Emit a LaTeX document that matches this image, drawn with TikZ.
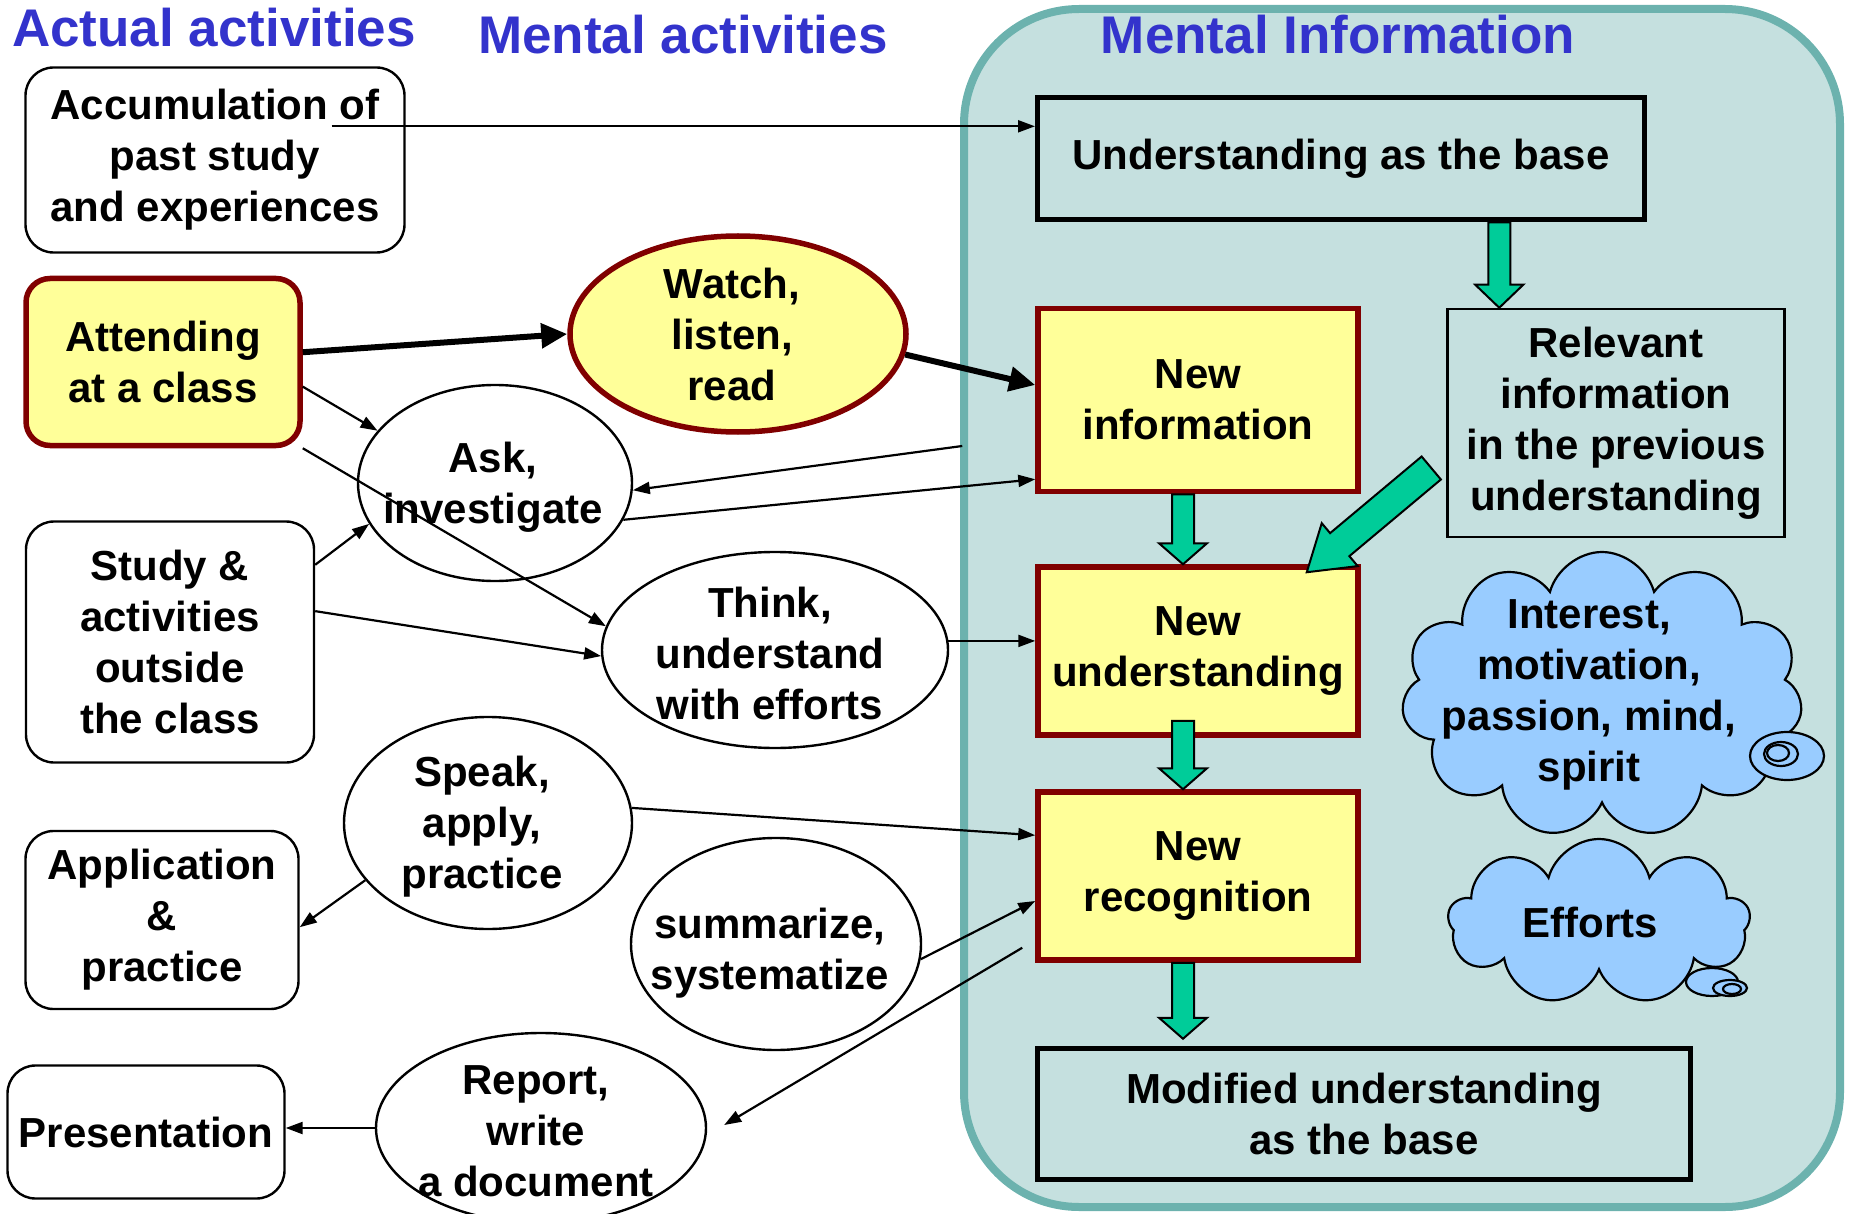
\documentclass[tikz,border=0pt]{standalone}
\usepackage{fontspec}
\setmainfont{Liberation Sans}
\usepackage{xcolor}
\usetikzlibrary{shapes}
\usetikzlibrary{arrows.meta}
\usetikzlibrary{calc}

\definecolor{headblue}{HTML}{3333CC}
\definecolor{paleyellow}{HTML}{FFFF99}
\definecolor{darkred}{HTML}{800000}
\definecolor{panelfill}{HTML}{C5E0DF}
\definecolor{paneledge}{HTML}{6CB2AE}
\definecolor{fatgreen}{HTML}{00CC99}
\definecolor{cloudblue}{HTML}{99CCFF}

\tikzset{
    head/.style={text=headblue, font=\fontsize{53}{60}\selectfont\bfseries},
    txt/.style={align=center, inner sep=0pt},
    actual/.style={draw, fill=white, line width=2.4pt, rounded corners=28pt, align=center, inner sep=0pt},
    mental/.style={ellipse, draw, fill=white, line width=2.4pt, inner sep=0pt},
    hot/.style={fill=paleyellow, draw=darkred, line width=5.5pt},
    infobox/.style={draw, line width=5pt, align=center, inner sep=0pt},
    conn/.style={line width=2.2pt, -{Triangle[length=17pt,width=12pt]}},
    bigconn/.style={line width=6pt, -{Triangle[length=26pt,width=24pt]}},
    fat/.style={fill=fatgreen, draw=black, line width=2pt, line join=miter},
    puff/.style={cloud, cloud ignores aspect, draw, fill=cloudblue, line width=2.2pt, inner sep=0pt},
    bubble/.style={draw, fill=cloudblue, line width=2.2pt}
}

% start, tip, shaft half width, head half width, head length
\newcommand{\fatarrow}[5]{%
        \coordinate (fa-h) at ($(#2)!#5!(#1)$);
        \draw[fat] ($(#1)!#3!90:(#2)$) -- ($(fa-h)!#3!90:(#2)$) -- ($(fa-h)!#4!90:(#2)$) -- (#2)
            -- ($(fa-h)!#4!-90:(#2)$) -- ($(fa-h)!#3!-90:(#2)$) -- ($(#1)!#3!-90:(#2)$) -- cycle;}

\begin{document}
\begin{tikzpicture}[x=1pt, y=-1pt, every node/.style={font=\fontsize{42}{51}\selectfont\bfseries}]
        \useasboundingbox (0,0) rectangle (1852,1214);
    %Panel
        \draw[fill=panelfill, draw=paneledge, line width=8pt, rounded corners=115pt] (964,9) rectangle (1840,1207);
        \node[head] (actual-h) at (214,28) {Actual activities};
        \node[head] (mental-h) at (683,35) {Mental activities};
        \node[head] (info-h) at (1338,35) {Mental Information};
    %Actual activities
        \node[actual, minimum width=379pt, minimum height=185pt] (acc) at (215,160) {Accumulation of\\past study\\and experiences};
        \node[actual, hot, rounded corners=24pt, minimum width=274pt, minimum height=167pt] (attend) at (163,362) {Attending\\at a class};
        \node[actual, minimum width=288pt, minimum height=241pt] (study) at (170,642) {Study \&\\activities\\outside\\the class};
        \node[actual, minimum width=273pt, minimum height=178pt] (app) at (162,920) {Application\\\&\\practice};
        \node[actual, minimum width=277pt, minimum height=133pt] (pres) at (146,1132) {Presentation};
    %Mental activities
        \node[mental, hot, minimum width=336pt, minimum height=196pt] (watch) at (738,334) {};
        \node[txt] (watch-t) at ($(watch)+(-6,0)$) {Watch,\\listen,\\read};
        \node[mental, minimum width=274pt, minimum height=196pt] (ask) at (495,483) {};
        \node[txt] (ask-t) at ($(ask)+(-2,4)$) {Ask,\\investigate};
        \node[mental, minimum width=346pt, minimum height=196pt] (think) at (775,650) {};
        \node[txt] (think-t) at ($(think)+(-5,3)$) {Think,\\understand\\with efforts};
        \node[mental, minimum width=288pt, minimum height=212pt] (speak) at (488,823) {};
        \node[txt] (speak-t) at ($(speak)+(-6,4)$) {Speak,\\apply,\\practice};
        \node[mental, minimum width=290pt, minimum height=212pt] (summ) at (776,944) {};
        \node[txt] (summ-t) at ($(summ)+(-6,9)$) {summarize,\\systematize};
        \node[mental, minimum width=330pt, minimum height=190pt] (report) at (541,1128) {};
        \node[txt] (report-t) at ($(report)+(-5,3)$) {Report,\\write\\a document};
    %Mental information
        \node[infobox, minimum width=607pt, minimum height=122pt] (base) at (1341,159) {Understanding as the base};
        \node[infobox, hot, minimum width=320pt, minimum height=183pt] (newinfo) at (1198,400) {New\\information};
        \node[infobox, line width=2.5pt, minimum width=337pt, minimum height=228pt] (rel) at (1616,423) {Relevant\\information\\in the previous\\understanding};
        \node[infobox, hot, minimum width=320pt, minimum height=168pt] (newund) at (1198,651) {New\\understanding};
        \node[infobox, hot, minimum width=320pt, minimum height=168pt] (newrec) at (1198,876) {New\\recognition};
        \node[infobox, minimum width=653pt, minimum height=131pt] (mod) at (1364,1114) {Modified understanding\\as the base};
    %Clouds
        \node[puff, cloud puffs=11, minimum width=401pt, minimum height=286pt] (spirit) at (1602,695) {};
        \node[txt] (spirit-t) at (1589,695) {Interest,\\motivation,\\passion, mind,\\spirit};
        \draw[bubble] (1787,756) ellipse [x radius=37pt, y radius=24pt];
        \draw[bubble] (1781,754) ellipse [x radius=17pt, y radius=12pt];
        \draw[bubble] (1778,753) ellipse [x radius=11pt, y radius=8pt];
        \node[puff, cloud puffs=9, minimum width=302pt, minimum height=166pt] (effort) at (1599,922) {};
        \node[txt] (effort-t) at (1590,922) {Efforts};
        \draw[bubble] (1712,982) ellipse [x radius=26pt, y radius=14pt];
        \draw[bubble] (1730,988) ellipse [x radius=17pt, y radius=8pt];
        \draw[bubble] (1732,989) ellipse [x radius=9pt, y radius=5pt];
    %Green arrows
        \coordinate (g1-tip) at ($(rel.north west)+(53,0)$);
        \coordinate (g1-start) at (g1-tip |- base.south);
        \fatarrow{g1-start}{g1-tip}{11pt}{24pt}{23pt}
        \coordinate (g2-start) at ($(newinfo.south)+(-15,0)$);
        \coordinate (g2-tip) at (g2-start |- newund.north);
        \fatarrow{g2-start}{g2-tip}{11pt}{24pt}{21pt}
        \coordinate (g3-start) at ($(newund.south)+(-15,-17)$);
        \coordinate (g3-tip) at (g3-start |- newrec.north);
        \fatarrow{g3-start}{g3-tip}{11pt}{24pt}{21pt}
        \coordinate (g4-start) at ($(newrec.south)+(-15,0)$);
        \coordinate (g4-tip) at ($(g4-start)+(0,76)$);
        \fatarrow{g4-start}{g4-tip}{11pt}{24pt}{21pt}
        \coordinate (g5-start) at ($(rel.west)+(-15,45)$);
        \coordinate (g5-tip) at ($(newund.north east)+(-54,8)$);
        \fatarrow{g5-start}{g5-tip}{15pt}{28pt}{43pt}
    %Connectors
        \coordinate (acc-out) at ($(acc.north east)+(-74,60)$);
        \draw[conn] (acc-out) -- (acc-out -| base.west);
        \draw[bigconn] (attend.4) -- (watch.west);
        \draw[bigconn] (watch.-7) -- ($(newinfo.west)+(0,-15)$);
        \draw[conn] (attend.-10) -- (ask.156);
        \draw[conn] (attend.south east) -- (think.172);
        \draw[conn] (study.28) -- (ask.198);
        \draw[conn] (study.12) -- (think.182);
        \coordinate (info-out) at ($(newinfo.west)+(-73,46)$);
        \draw[conn] (info-out) -- (ask.-3);
        \draw[conn] (ask.-16) -- ($(newinfo.south west)+(0,-15)$);
        \draw[conn] (think.3) -- (think.3 -| newund.west);
        \draw[conn] (speak.6) -- ($(newrec.north west)+(0,46)$);
        \draw[conn] (speak.205) -- (app.-3);
        \draw[conn] (summ.-6) -- ($(newrec.west)+(0,25)$);
        \coordinate (rec-out) at ($(newrec.south west)+(-13,-15)$);
        \coordinate (rep-in) at ($(report.east)+(17,-3)$);
        \draw[conn] (rec-out) -- (rep-in);
        \draw[conn] (report.west) -- (report.west -| pres.east);
\end{tikzpicture}
\end{document}
